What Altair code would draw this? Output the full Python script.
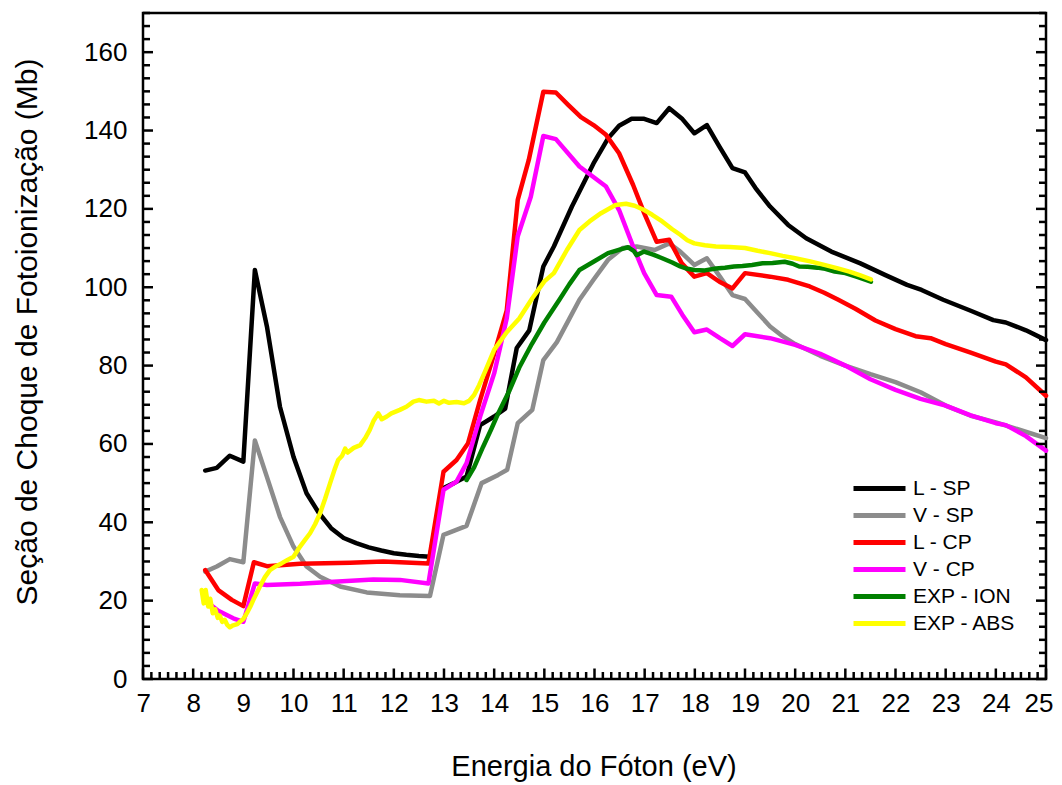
import altair as alt
import pandas as pd

SERIES = ["L - SP", "V - SP", "L - CP", "V - CP", "EXP - ION", "EXP - ABS"]
COLORS = ["#000000", "#8c8c8c", "#ff0000", "#ff00ff", "#008000", "#ffff00"]

L_SP_x = [8.24, 8.47, 8.73, 9.0, 9.23, 9.47, 9.73, 10.0, 10.26, 10.5, 10.75, 11.0, 11.25, 11.5, 11.75, 12.0, 12.25, 12.5, 12.72, 12.98, 13.2, 13.45, 13.72, 14.0, 14.22, 14.45, 14.7, 14.98, 15.19, 15.55, 15.98, 16.27, 16.49, 16.74, 16.99, 17.24, 17.49, 17.74, 17.99, 18.24, 18.49, 18.75, 19.0, 19.21, 19.5, 19.86, 20.22, 20.72, 21.3, 21.8, 22.23, 22.52, 22.95, 23.5, 23.95, 24.2, 24.6, 25.0]
L_SP_y = [53.2, 53.9, 57.0, 55.5, 104.4, 90.0, 69.5, 56.7, 47.4, 42.5, 38.5, 36.0, 34.7, 33.6, 32.8, 32.1, 31.7, 31.4, 31.2, 48.7, 50.0, 51.7, 64.8, 67.0, 69.0, 84.5, 89.0, 105.3, 110.4, 120.6, 131.6, 138.0, 141.2, 143.0, 143.0, 141.9, 145.7, 143.1, 139.3, 141.4, 135.9, 130.4, 129.3, 125.3, 120.6, 115.9, 112.5, 109.1, 106.1, 103.1, 100.6, 99.3, 96.8, 94.0, 91.6, 91.0, 89.0, 86.5]

V_SP_x = [8.24, 8.47, 8.73, 9.0, 9.23, 9.47, 9.73, 10.0, 10.26, 10.53, 10.93, 11.46, 12.12, 12.72, 12.99, 13.45, 13.75, 14.08, 14.26, 14.47, 14.76, 14.98, 15.25, 15.5, 15.7, 15.98, 16.27, 16.56, 16.84, 17.2, 17.49, 17.71, 17.99, 18.24, 18.5, 18.75, 19.0, 19.25, 19.5, 19.75, 20.0, 20.5, 21.0, 21.5, 22.0, 22.5, 23.0, 23.5, 24.0, 24.5, 25.0]
V_SP_y = [27.4, 28.7, 30.6, 29.8, 60.9, 51.6, 41.4, 33.8, 28.7, 26.1, 23.6, 22.1, 21.4, 21.2, 36.8, 39.1, 50.0, 52.1, 53.4, 65.3, 68.7, 81.4, 86.0, 92.0, 96.8, 101.9, 107.0, 110.0, 110.4, 109.5, 111.2, 109.1, 105.7, 107.4, 102.7, 98.0, 97.0, 93.5, 90.0, 87.5, 85.5, 82.5, 80.0, 77.8, 75.8, 73.2, 69.8, 67.2, 65.5, 63.5, 61.5]

L_CP_x = [8.24, 8.5, 8.77, 9.0, 9.21, 9.47, 10.13, 11.13, 11.79, 12.69, 12.99, 13.25, 13.48, 13.72, 14.0, 14.25, 14.47, 14.69, 14.98, 15.23, 15.48, 15.73, 15.98, 16.23, 16.49, 16.77, 16.99, 17.24, 17.49, 17.74, 17.99, 18.24, 18.49, 18.75, 19.0, 19.5, 19.86, 20.29, 20.58, 20.86, 21.2, 21.6, 22.0, 22.4, 22.7, 23.0, 23.5, 24.0, 24.2, 24.6, 25.0]
L_CP_y = [27.8, 22.7, 20.2, 18.6, 29.8, 28.8, 29.4, 29.7, 30.0, 29.5, 52.9, 55.9, 60.2, 71.2, 83.0, 94.0, 122.3, 132.5, 149.9, 149.7, 146.5, 143.4, 141.4, 138.9, 134.2, 126.1, 118.9, 111.6, 112.1, 106.1, 102.7, 103.6, 101.4, 99.7, 103.6, 102.7, 101.9, 100.2, 98.6, 96.8, 94.5, 91.5, 89.3, 87.5, 87.0, 85.5, 83.3, 81.0, 80.3, 77.0, 72.3]

V_CP_x = [8.24, 8.5, 8.8, 9.0, 9.23, 9.47, 10.13, 10.8, 11.59, 12.12, 12.69, 12.99, 13.25, 13.45, 13.72, 14.0, 14.25, 14.47, 14.73, 14.98, 15.23, 15.7, 16.23, 16.49, 16.77, 16.99, 17.24, 17.53, 17.75, 17.99, 18.24, 18.5, 18.75, 19.0, 19.5, 20.0, 20.5, 21.0, 21.5, 22.0, 22.5, 23.0, 23.5, 24.0, 24.2, 24.6, 25.0]
V_CP_y = [20.0, 17.4, 15.5, 14.6, 24.4, 24.0, 24.3, 24.8, 25.4, 25.3, 24.4, 48.3, 50.4, 55.1, 67.0, 78.0, 92.0, 113.0, 123.1, 138.6, 137.8, 130.8, 125.7, 119.7, 110.4, 103.6, 98.0, 97.6, 93.0, 88.5, 89.2, 87.0, 85.0, 88.0, 87.0, 85.3, 83.0, 80.0, 76.5, 73.8, 71.5, 69.8, 67.3, 65.3, 64.8, 62.0, 58.3]

ION_x = [13.45, 13.6, 13.78, 13.95, 14.08, 14.3, 14.5, 14.75, 15.0, 15.3, 15.5, 15.7, 15.98, 16.27, 16.5, 16.67, 16.78, 16.84, 16.99, 17.17, 17.35, 17.55, 17.71, 17.85, 17.99, 18.2, 18.42, 18.6, 18.78, 18.95, 19.14, 19.35, 19.55, 19.79, 19.95, 20.08, 20.25, 20.44, 20.6, 20.79, 21.0, 21.22, 21.38, 21.51]
ION_y = [50.8, 54.0, 59.3, 64.0, 67.8, 73.5, 79.5, 85.5, 91.0, 96.8, 100.8, 104.4, 106.5, 108.7, 109.6, 110.2, 109.3, 108.2, 109.1, 108.3, 107.4, 106.3, 105.3, 104.7, 104.4, 104.3, 104.8, 105.0, 105.3, 105.4, 105.7, 106.1, 106.2, 106.5, 106.0, 105.3, 105.2, 105.0, 104.7, 104.0, 103.6, 102.7, 102.0, 101.4]

ABS_x = [8.17, 8.21, 8.25, 8.30, 8.34, 8.39, 8.44, 8.49, 8.53, 8.58, 8.63, 8.68, 8.73, 8.78, 8.83, 8.88, 8.93, 9.00, 9.07, 9.14, 9.20, 9.27, 9.33, 9.43, 9.53, 9.65, 9.76, 9.88, 10.00, 10.13, 10.23, 10.33, 10.43, 10.53, 10.63, 10.73, 10.82, 10.89, 10.97, 11.03, 11.08, 11.20, 11.33, 11.43, 11.52, 11.60, 11.69, 11.76, 11.86, 11.95, 12.12, 12.25, 12.39, 12.50, 12.65, 12.80, 12.90, 13.00, 13.10, 13.25, 13.40, 13.50, 13.60, 13.70, 13.82, 14.00, 14.25, 14.50, 14.76, 15.00, 15.19, 15.45, 15.70, 15.90, 16.13, 16.42, 16.63, 16.80, 16.99, 17.15, 17.35, 17.55, 17.71, 17.85, 17.99, 18.20, 18.42, 18.70, 19.00, 19.25, 19.50, 19.75, 20.00, 20.30, 20.58, 20.85, 21.08, 21.30, 21.51]
ABS_y = [22.7, 19.3, 22.7, 18.5, 20.5, 16.8, 17.8, 15.6, 16.2, 14.6, 15.1, 13.8, 13.2, 13.6, 13.8, 14.0, 14.6, 15.3, 16.8, 18.5, 20.2, 22.0, 23.6, 26.0, 27.8, 28.8, 29.5, 30.4, 31.2, 33.8, 35.5, 37.2, 39.5, 42.3, 46.0, 50.0, 53.5, 55.9, 57.0, 58.8, 57.8, 59.0, 59.7, 61.5, 63.6, 66.0, 67.8, 66.3, 67.0, 67.8, 68.7, 69.5, 70.8, 71.2, 70.8, 71.0, 70.3, 71.0, 70.5, 70.7, 70.4, 71.0, 72.5, 75.0, 78.5, 84.0, 88.5, 92.0, 97.2, 101.5, 103.6, 109.5, 114.6, 116.8, 118.9, 121.0, 121.3, 120.8, 119.7, 118.5, 116.8, 114.8, 113.4, 112.0, 111.2, 110.7, 110.4, 110.3, 110.0, 109.3, 108.7, 108.0, 107.4, 106.6, 105.7, 104.8, 104.0, 103.0, 102.0]

X_LABELS = list(range(7, 26))
Y_LABELS = list(range(0, 161, 20))
X_TICKS = [7 + k / 6 for k in range(0, 109)]
Y_TICKS = [k * 20 / 6 for k in range(0, 52)]

data_sets = [(L_SP_x, L_SP_y), (V_SP_x, V_SP_y), (L_CP_x, L_CP_y),
             (V_CP_x, V_CP_y), (ION_x, ION_y), (ABS_x, ABS_y)]
rows = []
for name, (xs, ys) in zip(SERIES, data_sets):
    assert len(xs) == len(ys), name
    for i, (a, b) in enumerate(zip(xs, ys)):
        rows.append({"serie": name, "E": a, "sigma": b, "i": i})
df = pd.DataFrame(rows)

xtick_df = pd.DataFrame({"v": X_TICKS, "major": [k % 6 == 0 for k in range(len(X_TICKS))]})
ytick_df = pd.DataFrame({"v": Y_TICKS, "major": [k % 6 == 0 for k in range(len(Y_TICKS))]})

FONT = "Liberation Sans"
XMIN, XMAX, YMIN, YMAX = 7, 25, 0, 170
xsc = alt.Scale(domain=[XMIN, XMAX], nice=False, zero=False)
ysc = alt.Scale(domain=[YMIN, YMAX], nice=False, zero=False)

X_AX = alt.Axis(values=X_LABELS, title="Energia do Fóton (eV)", labelPadding=11,
                labelFlush=True, labelFlushOffset=7,
                titleX=450.5, titleY=96, titleAlign="center", titleBaseline="alphabetic")
Y_AX = alt.Axis(values=Y_LABELS, title="Seção de Choque de Fotoionização (Mb)", labelPadding=16,
                labelFlush=False, titleFontSize=30,
                titleX=-116, titleY=592, titleAngle=270, titleAlign="left", titleBaseline="middle")

color = alt.Color(
    "serie:N",
    scale=alt.Scale(domain=SERIES, range=COLORS),
    legend=alt.Legend(
        title=None, orient="none", legendX=708, legendY=462,
        symbolType="stroke", symbolSize=2704, symbolStrokeWidth=5,
        clipHeight=27, rowPadding=0, labelFontSize=21, labelFont=FONT,
        labelColor="black", labelOffset=5, padding=0, labelLimit=300,
    ),
)

base = alt.Chart(df).mark_line(strokeWidth=4.5, strokeJoin="round", strokeCap="round").encode(
    x=alt.X("E:Q", scale=xsc, axis=X_AX),
    y=alt.Y("sigma:Q", scale=ysc, axis=Y_AX),
    color=color,
    order="i:Q",
)
lines = [base.transform_filter(alt.datum.serie == s) for s in SERIES]

# inward tick lengths, in data units (~10 px major, ~7 px minor)
XT_MAJ, XT_MIN = 10.5 / 3.917, 7 / 3.917
YT_MAJ, YT_MIN = 10 / 50.17, 7 / 50.17

def xticks(major, length):
    return alt.Chart(xtick_df).transform_filter(alt.datum.major == major).mark_rule(
        strokeWidth=2.5, color="black"
    ).encode(x=alt.X("v:Q", scale=xsc, axis=X_AX),
             y=alt.YDatum(YMIN, scale=ysc, axis=Y_AX), y2=alt.Y2Datum(YMIN + length))

def yticks(major, length, side, sign):
    return alt.Chart(ytick_df).transform_filter(alt.datum.major == major).mark_rule(
        strokeWidth=2.5, color="black"
    ).encode(y=alt.Y("v:Q", scale=ysc, axis=Y_AX),
             x=alt.XDatum(side, scale=xsc, axis=X_AX), x2=alt.X2Datum(side + sign * length))

ticks = [xticks(True, XT_MAJ), xticks(False, XT_MIN),
         yticks(True, YT_MAJ, XMIN, 1), yticks(False, YT_MIN, XMIN, 1),
         yticks(True, YT_MAJ, XMAX, -1), yticks(False, YT_MIN, XMAX, -1)]

chart = alt.layer(*lines, *ticks).properties(
    width=903, height=666,
    padding={"left": 135, "top": 5, "right": 8, "bottom": 104},
    autosize="none",
).configure_view(stroke="black", strokeWidth=2.5).configure_axis(
    grid=False, domain=False, ticks=False, tickSize=0,
    labelFont=FONT, labelFontSize=26, labelColor="black",
    titleFont=FONT, titleFontSize=29, titleColor="black", titleFontWeight="normal",
)

chart.save("out.html", embed_options={"renderer": "svg", "actions": False})
